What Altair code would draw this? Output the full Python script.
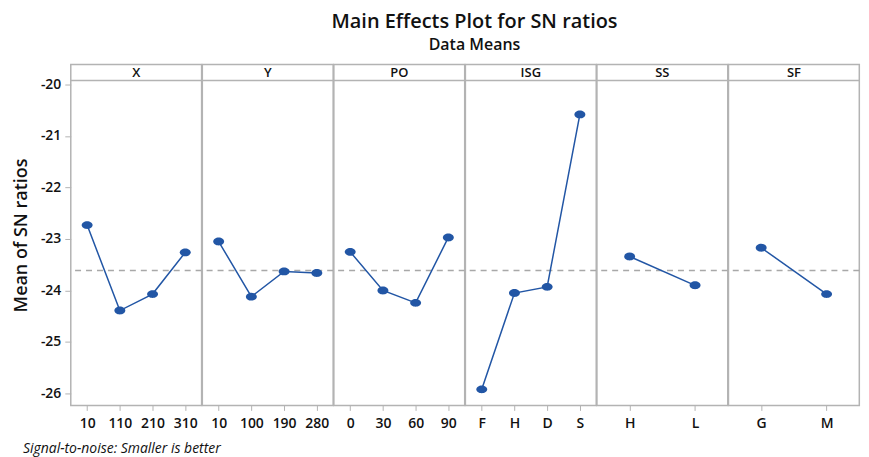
import altair as alt
import pandas as pd
import numpy as np

# ---- data ----
factors = ["X", "Y", "PO", "ISG", "SS", "SF"]

x_levels = ["10", "110", "210", "310"]
x_sn = [-22.73, -24.39, -24.07, -23.26]

y_levels = ["10", "100", "190", "280"]
y_sn = [-23.05, -24.12, -23.63, -23.66]

po_levels = ["0", "30", "60", "90"]
po_sn = [-23.25, -24.00, -24.24, -22.97]

isg_levels = ["F", "H", "D", "S"]
isg_sn = [-25.92, -24.05, -23.93, -20.58]

ss_levels = ["H", "L"]
ss_sn = [-23.34, -23.90]

sf_levels = ["G", "M"]
sf_sn = [-23.17, -24.07]

y_ticks = [-26, -25, -24, -23, -22, -21, -20]

title_text = "Main Effects Plot for SN ratios"
subtitle_text = "Data Means"
y_title = "Mean of SN ratios"
footer_text = "Signal-to-noise: Smaller is better"

# ---- table ----
groups = [
    ("X", x_levels, x_sn),
    ("Y", y_levels, y_sn),
    ("PO", po_levels, po_sn),
    ("ISG", isg_levels, isg_sn),
    ("SS", ss_levels, ss_sn),
    ("SF", sf_levels, sf_sn),
]
rows = []
for f, levs, vals in groups:
    for i, (l, v) in enumerate(zip(levs, vals)):
        rows.append({"factor": f, "level": l, "idx": i, "sn": v})
df = pd.DataFrame(rows)
grand_mean = float(np.mean(df[df.factor == "X"]["sn"]))

# ---- styling ----
FONT = "Open Sans"
BLUE = "#2256A5"
GRID = "#B3B3B3"
INK = "#111111"
PW = 131.3
PH = 342
HEAD = 16
Y_DOMAIN = [-26.232, -19.613]

ellipse = "M -1 0 A 1 0.72 0 1 1 1 0 A 1 0.72 0 1 1 -1 0 Z"

x_enc = alt.X(
    "level:N",
    sort=alt.EncodingSortField(field="idx", op="min"),
    scale=alt.Scale(type="point", padding=0.5),
    axis=alt.Axis(title=None, labelAngle=0, domain=False, tickColor=GRID,
                  tickSize=5, tickWidth=1, labelFontSize=14, labelFont=FONT,
                  labelColor=INK, labelPadding=6, labelFontWeight=600),
)
y_enc = alt.Y(
    "sn:Q",
    scale=alt.Scale(domain=Y_DOMAIN, nice=False, zero=False),
    axis=alt.Axis(title=y_title, values=y_ticks, grid=False, domain=False,
                  labelExpr="datum.value < 0 ? '-' + abs(datum.value) : '' + datum.value",
                  tickColor=GRID, tickSize=6, tickWidth=1, labelFontSize=14,
                  labelFont=FONT, labelColor=INK, labelPadding=4,
                  labelFontWeight=600,
                  titleFontSize=18, titleFont=FONT, titleFontWeight=600,
                  titleColor=INK, titlePadding=10),
)

base = alt.Chart()

line = base.mark_line(color=BLUE, strokeWidth=1.5).encode(x=x_enc, y=y_enc)
pts = base.mark_point(shape=ellipse, size=121, filled=True, opacity=1,
                      color=BLUE).encode(x=x_enc, y=y_enc)
mean_rule = base.mark_rule(color="#A8A8A8", strokeWidth=1.3,
                           strokeDash=[6, 5]).encode(
    y=alt.datum(grand_mean)
).transform_filter(alt.datum.idx == 0)
head_rule = base.mark_rule(color=GRID, strokeWidth=1.5).encode(
    x=alt.value(0), x2=alt.value(PW), y=alt.value(HEAD)
).transform_filter(alt.datum.idx == 0)
head_text = base.mark_text(font=FONT, fontSize=13, fontWeight=600,
                           color=INK, baseline="middle").encode(
    text="factor:N", x=alt.value(PW / 2), y=alt.value(HEAD / 2)
).transform_filter(alt.datum.idx == 0)

panel = alt.layer(mean_rule, line, pts, head_rule, head_text).properties(
    width=PW, height=PH,
    view=alt.ViewBackground(stroke=GRID, strokeWidth=1.5),
)

facet = panel.facet(
    data=df,
    column=alt.Column("factor:N", sort=factors,
                      header=alt.Header(labels=False, title=None)),
    spacing=0,
    bounds="flush",
).resolve_scale(x="independent")

footer = alt.Chart(pd.DataFrame({"t": [footer_text]})).mark_text(
    font=FONT, fontSize=14, fontStyle="italic", align="left", baseline="top",
    color=INK,
).encode(text="t:N", x=alt.value(-48), y=alt.value(0)).properties(
    width=PW * 6, height=1,
    view=alt.ViewBackground(stroke="transparent"),
)

chart = alt.vconcat(facet, footer, spacing=11).properties(
    title=alt.TitleParams(
        text=title_text, subtitle=subtitle_text, font=FONT, fontSize=20,
        fontWeight=600, color=INK, subtitleFont=FONT,
        subtitleFontSize=16, subtitleFontWeight=600, subtitleColor=INK,
        anchor="middle", frame="bounds", dx=38, offset=11, subtitlePadding=5,
    ),
    padding={"top": 3, "left": 4, "right": 0, "bottom": 0},
).configure_view(strokeWidth=0)

chart.save("out.html", embed_options={"renderer": "svg", "actions": False})
